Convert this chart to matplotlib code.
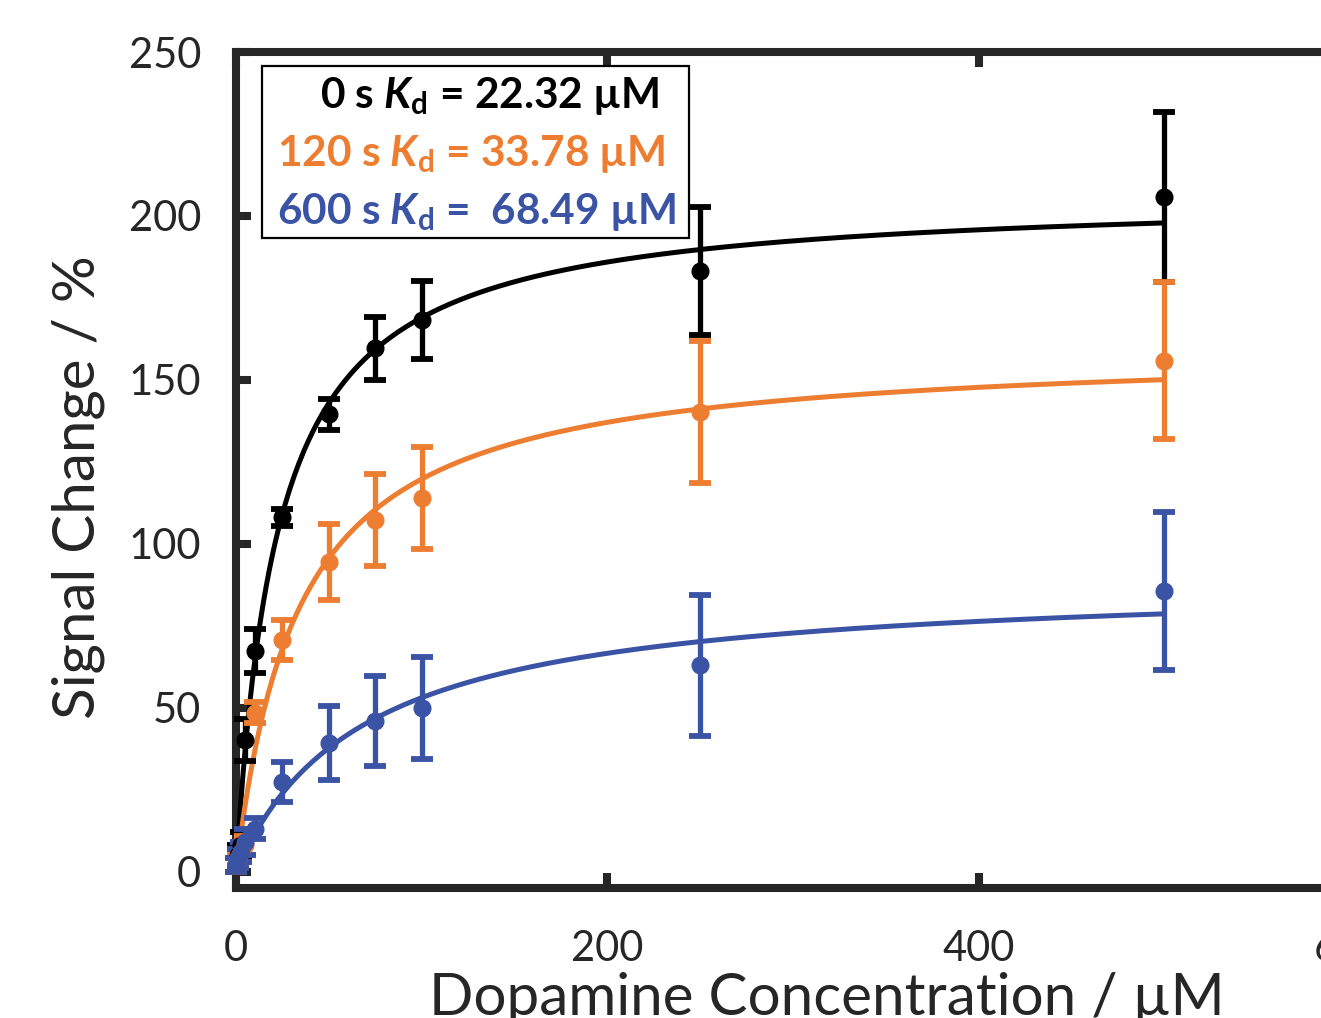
import numpy as np
import matplotlib
matplotlib.use("Agg")
import matplotlib.pyplot as plt
from matplotlib.patches import Rectangle

plt.rcParams['font.family'] = ['Lato', 'DejaVu Sans']
plt.rcParams['mathtext.fontset'] = 'custom'
plt.rcParams['mathtext.rm'] = 'Lato:bold'
plt.rcParams['mathtext.it'] = 'Lato:italic:bold'

# dopamine concentration (uM)
conc = [0, 1, 2.5, 5, 10, 25, 50, 75, 100, 250, 500]

# signal change (%) for each incubation time
sig_0s = [2, 5, 8, 40.2, 67.3, 108.1, 139.5, 159.6, 168.4, 183.3, 205.8]
err_0s = [2, 3, 4, 6.5, 6.8, 2.6, 4.8, 9.6, 11.9, 19.5, 26]
sig_120s = [2, 4, 6, 8, 48.4, 70.6, 94.4, 107.2, 113.9, 140.1, 155.9]
err_120s = [2, 2, 3, 3, 3.2, 6, 11.6, 14, 15.5, 21.6, 24]
sig_600s = [2, 4, 6, 9, 13.1, 27.4, 39.3, 46.0, 49.9, 63.0, 85.6]
err_600s = [2, 3, 3, 4, 3.3, 6.1, 11.3, 13.7, 15.5, 21.5, 24.2]

# binding fit parameters
kd = [22.32, 33.78, 68.49]
bmax = [206.7, 160.2, 89.4]

labels = [r"0 s $K_\mathrm{d}$ = 22.32 µM",
          r"120 s $K_\mathrm{d}$ = 33.78 µM",
          r"600 s $K_\mathrm{d}$ =  68.49 µM"]
colors = ['#000000', '#ED7D31', '#3A53A4']

dark = '#262626'

fig = plt.figure(figsize=(13.21, 10.18), dpi=100)
ax = fig.add_axes([0.1787, 0.1277, 0.8433, 0.8212])

xfit = np.linspace(0, max(conc), 400)
series = [(sig_0s, err_0s), (sig_120s, err_120s), (sig_600s, err_600s)]
for (y, e), k, b, c in zip(series, kd, bmax, colors):
    ax.plot(xfit, b * xfit / (k + xfit), color=c, lw=3.6, zorder=3, clip_on=False)
    ax.errorbar(conc, y, yerr=e, fmt='o', color=c, ms=12, elinewidth=3.8,
                capsize=8, capthick=4.2, zorder=4, clip_on=False)

ax.set_xlim(0, 600)
ax.set_ylim(-5, 250)
ax.set_xticks([0, 200, 400, 600])
ax.set_yticks([0, 50, 100, 150, 200, 250])

for s in ax.spines.values():
    s.set_linewidth(5.8)
    s.set_color(dark)
ax.tick_params(direction='in', length=11, width=5.8, color=dark,
               labelsize=30, labelcolor=dark, top=True, right=True)
ax.tick_params(axis='x', pad=30)
ax.tick_params(axis='y', pad=25)

ax.set_xlabel('Dopamine Concentration / µM', fontsize=42, color=dark)
ax.set_ylabel('Signal Change / %', fontsize=42, color=dark)
ax.xaxis.set_label_coords(0.5305, -0.1)
ax.yaxis.set_label_coords(-0.118, 0.48)

# Kd box
ax.add_patch(Rectangle((0.0233, 0.7775), 0.3833, 0.2055, transform=ax.transAxes,
                       facecolor='white', edgecolor='black', lw=1.6, zorder=6))
text_x = [0.0754, 0.0368, 0.0368]
text_y = [0.933, 0.8636, 0.794]
for lab, c, tx, ty in zip(labels, colors, text_x, text_y):
    ax.text(tx, ty, lab, transform=ax.transAxes, color=c, fontsize=30.5,
            fontweight='bold', va='baseline', ha='left', zorder=7)

fig.savefig('out.png', dpi=100)
